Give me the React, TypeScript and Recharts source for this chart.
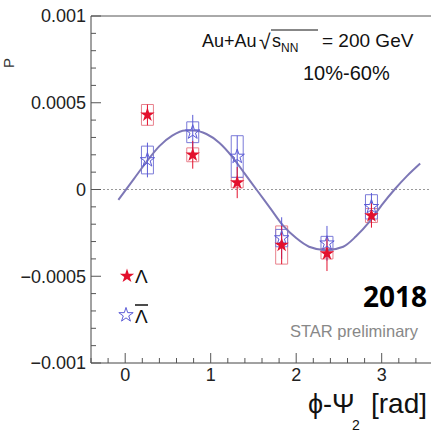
import {
  ComposedChart,
  ErrorBar,
  Line,
  ReferenceArea,
  ReferenceLine,
  Scatter,
  Symbols,
  XAxis,
  YAxis,
} from "recharts"

// phi - Psi2 bin centres [rad]
const phiBins = [0.26, 0.79, 1.31, 1.83, 2.36, 2.88]

// Lambda
const lambdaP = [0.00043, 0.0002, 0.00004, -0.00032, -0.00037, -0.00015]
const lambdaStat = [0.00006, 0.00008, 0.00009, 0.00011, 0.0001, 0.00007]
const lambdaSys = [0.00006, 0.00004, 0.00003, 0.00011, 0.00003, 0.00004]

// anti-Lambda
const antiP = [0.00017, 0.00033, 0.00019, -0.00028, -0.00031, -0.0001]
const antiStat = [0.0001, 0.0001, 0.00012, 0.00012, 0.0001, 0.00008]
const antiSys = [0.00008, 0.00006, 0.00012, 0.00005, 0.00004, 0.00007]

// fit curve
const fitPhi = [
  -0.08, 0.1, 0.25, 0.4, 0.55, 0.7, 0.8, 0.95, 1.1, 1.25, 1.4, 1.55, 1.7,
  1.85, 2.0, 2.15, 2.35, 2.55, 2.7, 2.85, 3.0, 3.15, 3.3, 3.45,
]
const fitP = [
  -0.00006, 0.00006, 0.00016, 0.00025, 0.00031, 0.00034, 0.00034, 0.00032,
  0.00027, 0.00019, 0.00009, -0.00001, -0.00011, -0.00021, -0.00028,
  -0.00033, -0.00035, -0.00033, -0.00027, -0.00019, -0.00009, 0.0, 0.00008,
  0.00015,
]

const yTicks = [
  -0.001, -0.0009, -0.0008, -0.0007, -0.0006, -0.0005, -0.0004, -0.0003,
  -0.0002, -0.0001, 0, 0.0001, 0.0002, 0.0003, 0.0004, 0.0005, 0.0006, 0.0007,
  0.0008, 0.0009, 0.001,
]
const yMajor = [-0.001, -0.0005, 0, 0.0005, 0.001]
const xTicks = [
  -0.4, -0.2, 0, 0.2, 0.4, 0.6, 0.8, 1, 1.2, 1.4, 1.6, 1.8, 2, 2.2, 2.4, 2.6,
  2.8, 3, 3.2, 3.4, 3.6,
]
const xMajor = [0, 1, 2, 3]

const lambdaData = phiBins.map((x, i) => ({ x, y: lambdaP[i], stat: lambdaStat[i] }))
const antiData = phiBins.map((x, i) => ({ x, y: antiP[i], stat: antiStat[i] }))
const fitData = fitPhi.map((x, i) => ({ x, fit: fitP[i] }))

const BOX_HALF = 0.07
const RED = "#e3102d"
const RED_BOX = "#e8808c"
const BLUE = "#5b5bd6"
const BLUE_BOX = "#7a7ad8"
const FONT = "'Liberation Sans', Arial, sans-serif"

const isMajor = (list: number[], v: number) => list.some((m) => Math.abs(m - v) < 1e-9)
const fmtY = (v: number) => (v === 0 ? "0" : v < 0 ? "\u2212" + String(-v) : String(v))

function YTick(props: any) {
  const { x, y, payload } = props
  const major = isMajor(yMajor, payload.value)
  return (
    <g>
      <line x1={x + 5} x2={x + 5 + (major ? 10 : 5)} y1={y} y2={y} stroke="#555" />
      {major && (
        <text x={x} y={y} dy="0.36em" textAnchor="end" fontSize={18} fill="#222" fontFamily={FONT}>
          {fmtY(payload.value)}
        </text>
      )}
    </g>
  )
}

function XTick(props: any) {
  const { x, y, payload } = props
  const major = isMajor(xMajor, payload.value)
  return (
    <g>
      <line x1={x} x2={x} y1={y - 4} y2={y - 4 - (major ? 10 : 5)} stroke="#555" />
      {major && (
        <text x={x} y={y} dy="0.78em" textAnchor="middle" fontSize={18} fill="#222" fontFamily={FONT}>
          {payload.value}
        </text>
      )}
    </g>
  )
}

export default function App() {
  return (
    <div
      style={{
        position: "fixed",
        left: 0,
        top: 0,
        width: 431,
        height: 435,
        overflow: "hidden",
        background: "#fff",
        fontFamily: FONT,
      }}
    >
      <ComposedChart width={434} height={435} margin={{ top: 16, right: 1, bottom: 0, left: 0 }}>
        <XAxis
          type="number"
          dataKey="x"
          domain={[-0.4, 3.6]}
          ticks={xTicks}
          interval={0}
          tick={<XTick />}
          tickSize={0}
          tickMargin={4}
          height={72}
          stroke="#444"
          allowDataOverflow
        />
        <YAxis
          type="number"
          domain={[-0.001, 0.001]}
          ticks={yTicks}
          interval={0}
          tick={<YTick />}
          tickSize={0}
          tickMargin={5}
          width={91}
          stroke="#444"
          allowDataOverflow
        />
        <ReferenceLine y={0.001} stroke="#555" />
        <ReferenceLine y={0} stroke="#999" strokeDasharray="2 2" />
        {phiBins.map((x, i) => (
          <ReferenceArea
            key={"lb" + i}
            x1={x - BOX_HALF}
            x2={x + BOX_HALF}
            y1={lambdaP[i] - lambdaSys[i]}
            y2={lambdaP[i] + lambdaSys[i]}
            fill="none"
            stroke={RED_BOX}
            strokeWidth={1}
          />
        ))}
        {phiBins.map((x, i) => (
          <ReferenceArea
            key={"ab" + i}
            x1={x - BOX_HALF}
            x2={x + BOX_HALF}
            y1={antiP[i] - antiSys[i]}
            y2={antiP[i] + antiSys[i]}
            fill="none"
            stroke={BLUE_BOX}
            strokeWidth={1}
          />
        ))}
        <Line
          data={fitData}
          dataKey="fit"
          type="monotone"
          stroke="#7d77b6"
          strokeWidth={2}
          dot={false}
          isAnimationActive={false}
        />
        <Scatter data={antiData} dataKey="y" shape="star" fill="none" stroke={BLUE} strokeWidth={1} isAnimationActive={false}>
          <ErrorBar dataKey="stat" direction="y" width={0} stroke={BLUE} strokeWidth={1} />
        </Scatter>
        <Scatter data={lambdaData} dataKey="y" shape="star" fill={RED} isAnimationActive={false}>
          <ErrorBar dataKey="stat" direction="y" width={0} stroke={RED} strokeWidth={1} />
        </Scatter>
      </ComposedChart>

      <svg
        width={431}
        height={435}
        style={{ position: "absolute", left: 0, top: 0, pointerEvents: "none" }}
        fontFamily={FONT}
      >
        <text transform="translate(14,68) rotate(-90)" fontSize={15} fill="#333">
          P
        </text>
        <text x={202} y={47} fontSize={18} fill="#111">
          Au+Au
        </text>
        <text x={259} y={49} fontSize={21} fill="#111">
          √
        </text>
        <line x1={271} x2={318} y1={30} y2={30} stroke="#111" />
        <text x={272} y={47} fontSize={18} fill="#111">
          s
        </text>
        <text x={281} y={52} fontSize={12} fill="#111">
          NN
        </text>
        <text x={322} y={47} fontSize={19} fill="#111">
          = 200 GeV
        </text>
        <text x={303} y={80} fontSize={20} fill="#111">
          10%-60%
        </text>

        <Symbols cx={127} cy={276} type="star" size={64} fill={RED} />
        <text x={135} y={283} fontSize={19} fill="#111">
          Λ
        </text>
        <Symbols cx={126} cy={315} type="star" size={64} fill="none" stroke={BLUE} />
        <line x1={135} x2={148} y1={305} y2={305} stroke="#111" strokeWidth={1.5} />
        <text x={135} y={323} fontSize={19} fill="#111">
          Λ
        </text>

        <text x={427} y={307} fontSize={28} fontWeight="bold" fill="#000" textAnchor="end" fontFamily="'Open Sans', sans-serif">
          2018
        </text>
        <text x={290} y={337} fontSize={16.5} fill="#888">
          STAR preliminary
        </text>

        <text x={308} y={413} fontSize={27} fill="#111">
          ϕ-Ψ
        </text>
        <text x={352} y={430} fontSize={14} fill="#111">
          2
        </text>
        <text x={427} y={413} fontSize={28} fill="#111" textAnchor="end">
          [rad]
        </text>
      </svg>
    </div>
  )
}
